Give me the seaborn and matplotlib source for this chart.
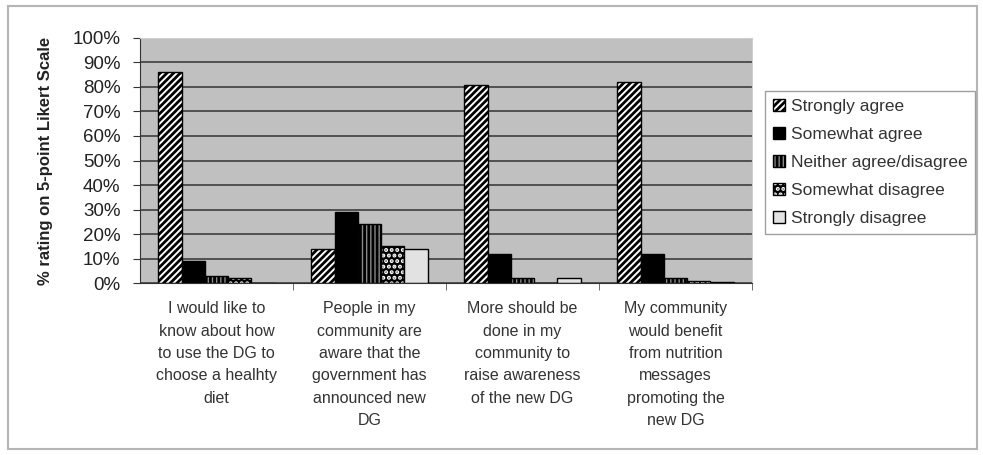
import numpy as np
import pandas as pd
import matplotlib
matplotlib.use("Agg")
import matplotlib.pyplot as plt
import matplotlib.patches as mpatches
import matplotlib.patheffects as pe
import seaborn as sns


statements = [
    "I would like to\nknow about how\nto use the DG to\nchoose a healhty\ndiet",
    "People in my\ncommunity are\naware that the\ngovernment has\nannounced new\nDG",
    "More should be\ndone in my\ncommunity to\nraise awareness\nof the new DG",
    "My community\nwould benefit\nfrom nutrition\nmessages\npromoting the\nnew DG",
]
responses = ["Strongly agree", "Somewhat agree", "Neither agree/disagree",
             "Somewhat disagree", "Strongly disagree"]

strongly_agree = [86, 14, 81, 82]
somewhat_agree = [9, 29, 12, 12]
neither = [3, 24, 2, 2]
somewhat_disagree = [2, 15, 0, 1]
strongly_disagree = [0, 14, 2, 0.5]


def make_frame():
    rows = []
    for resp, vals in zip(responses, [strongly_agree, somewhat_agree, neither,
                                      somewhat_disagree, strongly_disagree]):
        for i, v in enumerate(vals):
            rows.append({"item": i, "response": resp, "pct": v})
    return pd.DataFrame(rows)


def likert_chart(df):
    plt.rcParams['font.family'] = ['Liberation Sans', 'DejaVu Sans']
    plt.rcParams['hatch.linewidth'] = 2.0

    fig = plt.figure(figsize=(9.83, 4.55), dpi=100)
    ax = fig.add_axes([0.1424, 0.378, 0.6226, 0.5385])

    # facecolor, edgecolor, hatch for each response
    styles = [("white", "black", "/////"),
              ("black", "black", ""),
              ("#8a8a8a", "black", "||||"),
              ("black", "white", "..."),
              ("#e2e2e2", "black", "")]

    sns.barplot(data=df, x="item", y="pct", hue="response", hue_order=responses,
                width=0.76, ax=ax, legend=False, saturation=1)

    for cont, (fc, ec, h) in zip(ax.containers, styles):
        for bar in cont:
            bar.set_facecolor(fc)
            bar.set_edgecolor(ec)
            bar.set_hatch(h)
            bar.set_linewidth(1.0)
            if ec == "white":
                # white dots, black outline
                bar.set_path_effects([pe.Stroke(linewidth=1.0, foreground="black")])

    ax.set_facecolor("#c0c0c0")
    ax.set_ylim(0, 100)
    ax.set_xlim(-0.5, 3.5)
    ax.set_yticks(np.arange(0, 101, 10))
    ax.set_yticklabels([f"{v}%" for v in range(0, 101, 10)], fontsize=13.5, color="#222222")
    ax.yaxis.grid(True, color="#333333", linewidth=1.1)
    ax.set_axisbelow(True)

    ax.set_xticks(range(4))
    ax.set_xticklabels(statements, fontsize=11.5, color="#333333", linespacing=1.62, va="top")
    ax.tick_params(axis="x", length=0, pad=13)
    ax.set_xticks([0.5, 1.5, 2.5, 3.5], minor=True)
    ax.tick_params(axis="x", which="minor", length=5, color="#555555")
    ax.tick_params(axis="y", length=5, color="#333333", pad=9)

    ax.set_xlabel("")
    ax.set_ylabel("% rating on 5-point Likert Scale", fontsize=12, weight="bold",
                  color="#222222", labelpad=14)

    for side in ["top", "right"]:
        ax.spines[side].set_color("#d0d0d0")
    ax.spines["left"].set_color("#333333")
    ax.spines["bottom"].set_color("#333333")

    handles = []
    for (fc, ec, h), lab in zip(styles, responses):
        p = mpatches.Patch(facecolor=fc, edgecolor=ec, hatch=h, label=lab, linewidth=1.0)
        if ec == "white":
            p.set_path_effects([pe.Stroke(linewidth=1.0, foreground="black")])
        handles.append(p)
    leg = fig.legend(handles=handles, loc="center left", bbox_to_anchor=(0.778, 0.643),
                     fontsize=12.5, frameon=True, fancybox=False, edgecolor="#888888",
                     handlelength=0.7, handleheight=0.7, handletextpad=0.35,
                     labelspacing=0.75, borderpad=0.45, borderaxespad=0)
    for t in leg.get_texts():
        t.set_color("#333333")

    # outer chart border
    fig.patches.append(mpatches.Rectangle((0.008, 0.013), 0.986, 0.974,
                                          transform=fig.transFigure, fill=False,
                                          edgecolor="#b5b5b5", linewidth=1.5))

    fig.savefig("out.png", dpi=100)


def main():
    df = make_frame()
    likert_chart(df)


if __name__ == '__main__':
    main()
